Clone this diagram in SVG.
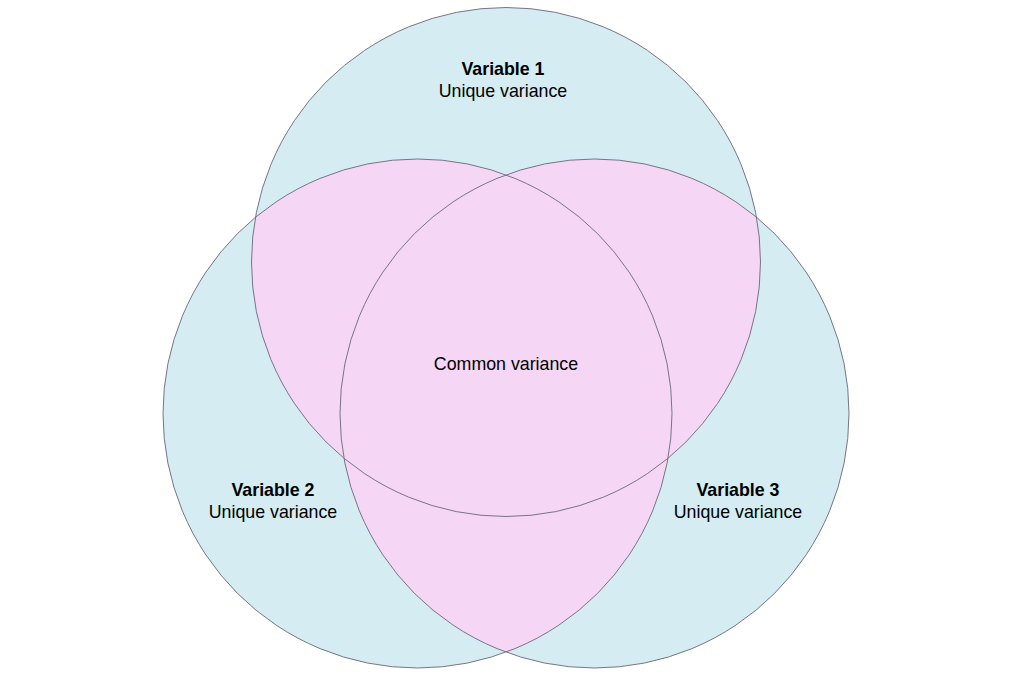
<svg xmlns="http://www.w3.org/2000/svg" width="1012" height="675" viewBox="0 0 1012 675">
<style>
.c{stroke:#6b6878;stroke-width:0.9}
.b{fill:#d4ecf2}
.p{fill:#f5d6f5;stroke:none}
text{font-family:"Liberation Sans",Arial,sans-serif;font-size:17.8px;fill:#000;text-anchor:middle}
.t{font-weight:bold}
</style>
<defs>
<clipPath id="c1"><circle cx="506" cy="262" r="254.5"/></clipPath>
<clipPath id="c2"><circle cx="417.5" cy="413.5" r="254.5"/></clipPath>
<clipPath id="c3"><circle cx="594.5" cy="413.5" r="254.5"/></clipPath>
</defs>
<rect width="1012" height="675" fill="#fff"/>
<g id="fills">
<circle class="b" cx="506" cy="262" r="254.5"/>
<circle class="b" cx="417.5" cy="413.5" r="254.5"/>
<circle class="b" cx="594.5" cy="413.5" r="254.5"/>
<g clip-path="url(#c1)"><circle class="p" cx="417.5" cy="413.5" r="254.5"/><circle class="p" cx="594.5" cy="413.5" r="254.5"/></g>
<g clip-path="url(#c2)"><circle class="p" cx="594.5" cy="413.5" r="254.5"/></g>
</g>
<g id="v1"><circle class="c" fill="none" cx="506" cy="262" r="254.5"/>
<text class="t" x="503" y="75">Variable 1</text><text x="503" y="97">Unique variance</text></g>
<g id="v2"><circle class="c" fill="none" cx="417.5" cy="413.5" r="254.5"/>
<text class="t" x="273" y="496">Variable 2</text><text x="273" y="518">Unique variance</text></g>
<g id="v3"><circle class="c" fill="none" cx="594.5" cy="413.5" r="254.5"/>
<text class="t" x="738" y="496">Variable 3</text><text x="738" y="518">Unique variance</text></g>
<g id="common"><text x="506" y="370">Common variance</text></g>
<g id="connectors"/>
</svg>
